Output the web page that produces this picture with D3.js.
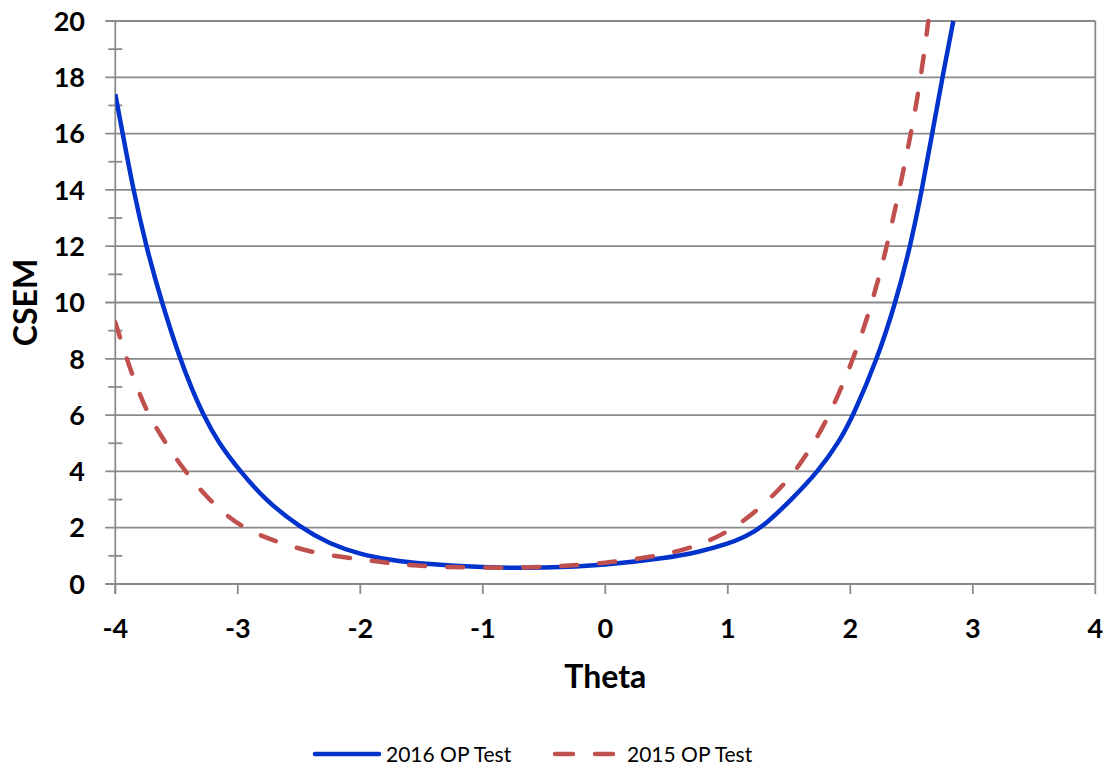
<!DOCTYPE html>
<html>
<head>
<meta charset="utf-8">
<script src="https://cdn.jsdelivr.net/npm/d3@7"></script>
<style>
  html, body { margin: 0; padding: 0; background: #fff; }
  svg { display: block; font-family: Lato, "Open Sans", sans-serif; }
</style>
</head>
<body>
<svg id="chart" width="1106" height="766"></svg>
<script>
// Conditional standard error of measurement across theta
const seriesNames = ["2016 OP Test", "2015 OP Test"];
const seriesColors = ["#0033CC", "#C0504D"];

const theta2016 = [-4.0, -3.94, -3.853, -3.749, -3.621, -3.472, -3.382, -3.282, -3.156, -2.98, -2.78, -2.49, -2.25, -2.0, -1.75, -1.5, -1.0, -0.5, 0.0, 0.5, 0.75, 1.0, 1.14, 1.28, 1.52, 1.739, 1.916, 2.025, 2.221, 2.37, 2.49, 2.585, 2.668, 2.752, 2.841];
const csem2016  = [17.4, 16.0, 14.0, 12.0, 10.0, 8.0, 7.0, 6.0, 5.0, 4.0, 3.0, 2.0, 1.42, 1.05, 0.85, 0.72, 0.58, 0.57, 0.67, 0.92, 1.12, 1.42, 1.68, 2.0, 3.0, 4.0, 5.1, 6.0, 8.0, 10.0, 12.0, 14.0, 16.0, 18.0, 20.0];

const theta2015 = [-4.0, -3.907, -3.825, -3.73, -3.589, -3.431, -3.24, -2.98, -2.656, -2.33, -2.0, -1.75, -1.5, -1.0, -0.5, 0.0, 0.5, 0.8, 1.067, 1.345, 1.554, 1.70, 1.832, 2.028, 2.18, 2.30, 2.40, 2.496, 2.577, 2.637];
const csem2015  = [9.3, 8.0, 7.0, 6.0, 5.0, 4.0, 3.0, 2.0, 1.45, 1.05, 0.88, 0.73, 0.63, 0.57, 0.59, 0.73, 1.04, 1.42, 2.0, 3.0, 4.0, 5.0, 6.0, 8.0, 10.0, 12.0, 14.0, 16.0, 18.0, 20.0];

const xTicks = [-4, -3, -2, -1, 0, 1, 2, 3, 4];
const yTicks = [0, 2, 4, 6, 8, 10, 12, 14, 16, 18, 20];
const yMinorTicks = [1, 3, 5, 7, 9, 11, 13, 15, 17, 19];

const svg = d3.select("#chart");
const margin = { left: 115.3, top: 21, right: 10.7, bottom: 182 };
const W = 1106, H = 766;
const x = d3.scaleLinear().domain([-4, 4]).range([margin.left, W - margin.right]);
const y = d3.scaleLinear().domain([0, 20]).range([H - margin.bottom, margin.top]);

const gridColor = "#8a8a8a";

// horizontal gridlines (extend a little left of the axis as major ticks)
svg.append("g").selectAll("line").data(yTicks).join("line")
  .attr("x1", x(-4) - 10).attr("x2", x(4))
  .attr("y1", d => y(d)).attr("y2", d => y(d))
  .attr("stroke", gridColor).attr("stroke-width", 1.8);

// minor ticks crossing the y axis
svg.append("g").selectAll("line").data(yMinorTicks).join("line")
  .attr("x1", x(-4) - 7).attr("x2", x(-4) + 7)
  .attr("y1", d => y(d)).attr("y2", d => y(d))
  .attr("stroke", gridColor).attr("stroke-width", 1.8);

// left axis and right border
svg.append("line").attr("x1", x(-4)).attr("x2", x(-4)).attr("y1", y(20)).attr("y2", y(0) + 10)
  .attr("stroke", gridColor).attr("stroke-width", 1.8);
svg.append("line").attr("x1", x(4)).attr("x2", x(4)).attr("y1", y(20)).attr("y2", y(0))
  .attr("stroke", gridColor).attr("stroke-width", 1.8);

// x ticks
svg.append("g").selectAll("line").data(xTicks).join("line")
  .attr("x1", d => x(d)).attr("x2", d => x(d))
  .attr("y1", y(0)).attr("y2", y(0) + 10)
  .attr("stroke", gridColor).attr("stroke-width", 1.8);

// tick labels
svg.append("g").selectAll("text").data(yTicks).join("text")
  .attr("x", 85).attr("y", d => y(d))
  .attr("dy", "0.36em").attr("text-anchor", "end")
  .attr("font-size", 27).attr("font-weight", "bold").attr("fill", "#000")
  .text(d => d);

svg.append("g").selectAll("text").data(xTicks).join("text")
  .attr("x", d => x(d)).attr("y", 628)
  .attr("dy", "0.36em").attr("text-anchor", "middle")
  .attr("font-size", 27).attr("font-weight", "bold").attr("fill", "#000")
  .text(d => d);

// axis titles
svg.append("text").attr("x", x(0)).attr("y", 676).attr("dy", "0.36em")
  .attr("text-anchor", "middle").attr("font-size", 32).attr("font-weight", "bold")
  .text("Theta");
svg.append("text").attr("transform", `translate(25,${(y(0) + y(20)) / 2}) rotate(-90)`)
  .attr("dy", "0.36em").attr("text-anchor", "middle")
  .attr("font-size", 32).attr("font-weight", "bold")
  .text("CSEM");

// curves
svg.append("defs").append("clipPath").attr("id", "plotClip")
  .append("rect").attr("x", x(-4)).attr("y", y(20) - 3)
  .attr("width", x(4) - x(-4)).attr("height", y(0) - y(20) + 3);

const line = d3.line().x(d => x(d[0])).y(d => y(d[1])).curve(d3.curveBasis);
const data2016 = theta2016.map((t, i) => [t, csem2016[i]]);
const data2015 = theta2015.map((t, i) => [t, csem2015[i]]);

const plot = svg.append("g").attr("clip-path", "url(#plotClip)");
plot.append("path").datum(data2016).attr("d", line)
  .attr("fill", "none").attr("stroke", seriesColors[0]).attr("stroke-width", 4.5)
  .attr("stroke-linejoin", "round");
plot.append("path").datum(data2015).attr("d", line)
  .attr("fill", "none").attr("stroke", seriesColors[1]).attr("stroke-width", 4.5)
  .attr("stroke-dasharray", "16,22").attr("stroke-linecap", "round");

// legend
const legendY = 754;
const leg = svg.append("g");
leg.append("line").attr("x1", 315).attr("x2", 379).attr("y1", legendY).attr("y2", legendY)
  .attr("stroke", seriesColors[0]).attr("stroke-width", 4.5).attr("stroke-linecap", "round");
leg.append("text").attr("x", 386).attr("y", legendY).attr("dy", "0.36em")
  .attr("font-size", 21).attr("fill", "#000").text(seriesNames[0]);
leg.append("line").attr("x1", 555).attr("x2", 615).attr("y1", legendY).attr("y2", legendY)
  .attr("stroke", seriesColors[1]).attr("stroke-width", 4.5).attr("stroke-linecap", "round")
  .attr("stroke-dasharray", "18,22");
leg.append("text").attr("x", 627).attr("y", legendY).attr("dy", "0.36em")
  .attr("font-size", 21).attr("fill", "#000").text(seriesNames[1]);
</script>
</body>
</html>
